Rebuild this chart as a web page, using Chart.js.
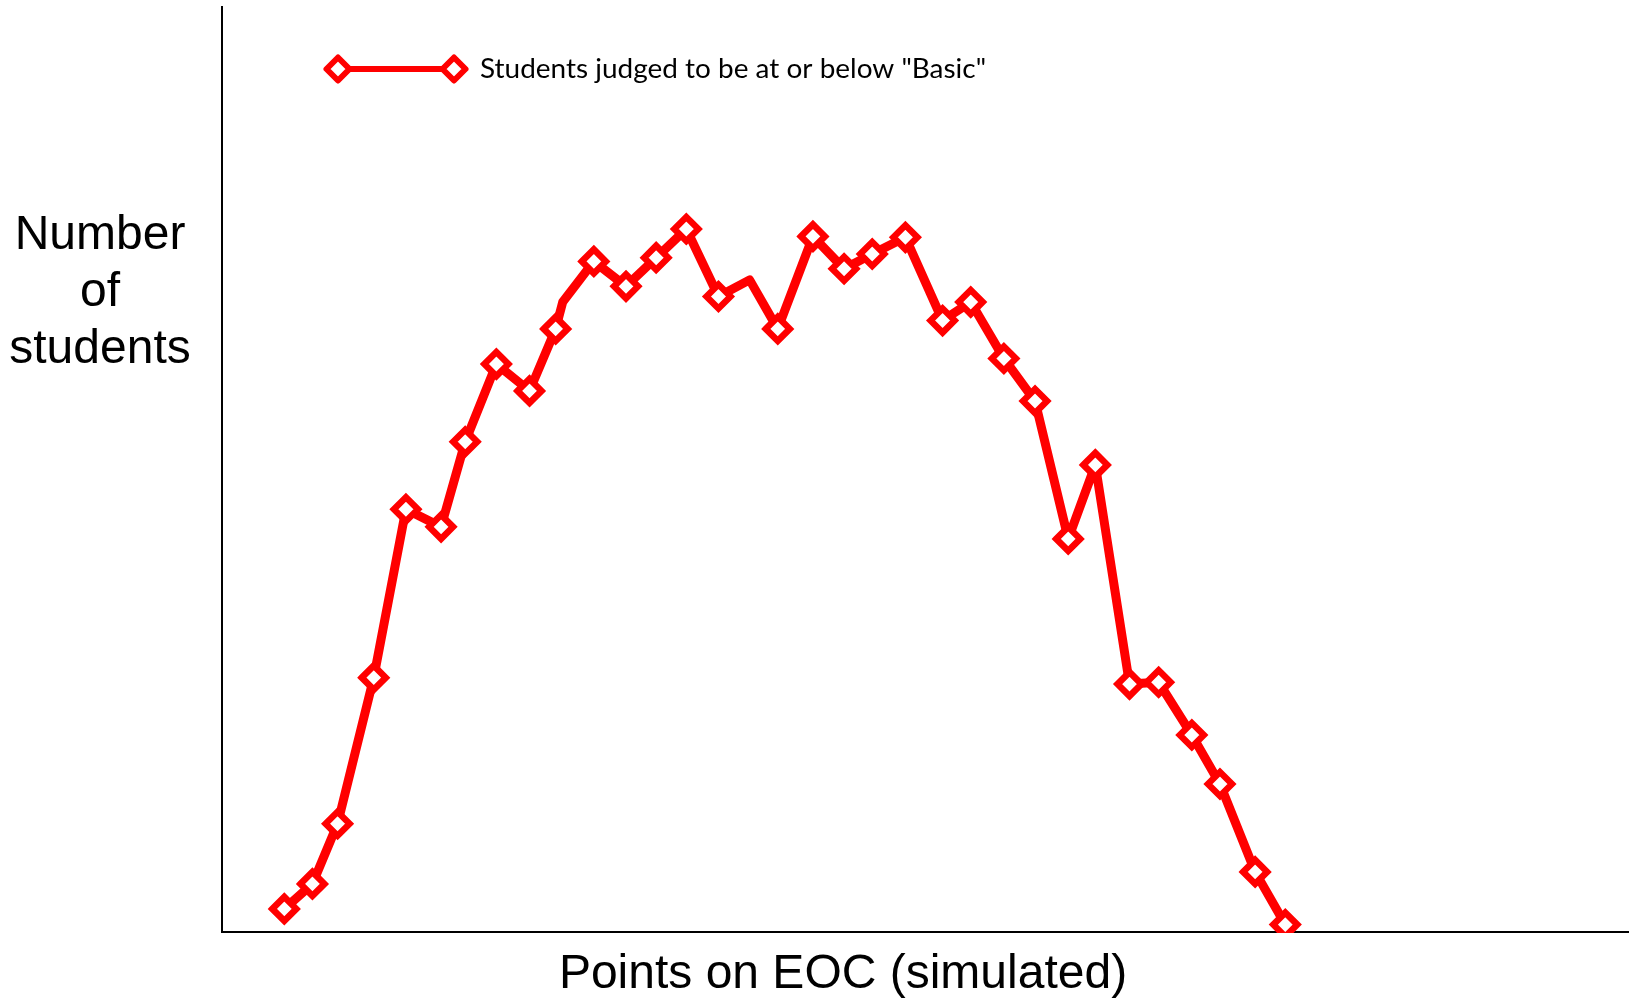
<!DOCTYPE html>
<html>
<head>
<meta charset="utf-8">
<script src="https://cdn.jsdelivr.net/npm/chart.js@4/dist/chart.umd.min.js"></script>
<style>
  html, body { margin: 0; padding: 0; background: #fff; overflow: hidden; }
  #wrap { width: 1629px; height: 998px; }
</style>
</head>
<body>
<div id="wrap"><canvas id="eocChart"></canvas></div>
<script>
// points on EOC (arbitrary units)
var eocPoints = [6.2, 9.0, 11.5, 15.1, 18.3, 21.8, 24.2, 27.3, 30.6, 33.2, 33.9, 37.0, 40.2, 43.2, 46.2, 49.4, 52.5,
  55.3, 58.8, 61.9, 64.7, 68.0, 71.7, 74.5, 77.8, 80.9, 84.2, 86.9, 90.3, 93.2, 96.5, 99.3, 102.8, 105.8]
// number of students (arbitrary units)
var studentCounts = [2.5, 5.2, 11.7, 27.5, 45.7, 43.8, 53.0, 61.4, 58.5, 65.2, 68.1, 72.5, 69.8, 72.9, 76.0, 68.7, 70.5,
  65.2, 75.2, 71.7, 73.3, 75.1, 66.1, 68.1, 62.0, 57.4, 42.5, 50.5, 26.8, 27.0, 21.3, 16.0, 6.5, 0.8]
// a couple of vertices in the source have no marker
var hasMarker = [1, 1, 1, 1, 1, 1, 1, 1, 1, 1, 0, 1, 1, 1, 1, 1, 0,
  1, 1, 1, 1, 1, 1, 1, 1, 1, 1, 1, 1, 1, 1, 1, 1, 1]

var seriesLabel = 'Students judged to be at or below "Basic"'
var yTitle = ['Number', 'of', 'students']
var xTitle = 'Points on EOC (simulated)'

var pts = eocPoints.map(function (x, i) { return { x: x, y: studentCounts[i] } })

var textPlugin = {
  id: 'textPlugin',
  afterDraw: function (chart) {
    var ctx = chart.ctx
    var area = chart.chartArea
    ctx.save()
    // y title
    ctx.fillStyle = '#000'
    ctx.font = '48px "Liberation Sans", Arial, sans-serif'
    ctx.textAlign = 'center'
    ctx.textBaseline = 'alphabetic'
    for (var i = 0; i < yTitle.length; i++) {
      ctx.fillText(yTitle[i], 100, 249 + i * 57)
    }
    // x title
    ctx.fillText(xTitle, 843, 988)

    // legend: line + two diamonds + label
    var ly = area.top + 62
    var lx1 = area.left + 116, lx2 = area.left + 232
    ctx.strokeStyle = '#ff0000'
    ctx.lineWidth = 6
    ctx.beginPath()
    ctx.moveTo(lx1, ly)
    ctx.lineTo(lx2, ly)
    ctx.stroke()
    var ps = { pointStyle: 'rectRot', radius: 11.5, borderWidth: 5.5 }
    ctx.fillStyle = '#fff'
    ctx.lineJoin = 'round'
    Chart.helpers.drawPoint(ctx, ps, lx1, ly)
    Chart.helpers.drawPoint(ctx, ps, lx2, ly)

    ctx.fillStyle = '#000'
    ctx.textAlign = 'left'
    ctx.font = '27px Lato, "Open Sans", sans-serif'
    var w = ctx.measureText(seriesLabel).width
    var sx = 506 / w
    ctx.translate(area.left + 258, area.top + 71)
    ctx.scale(sx, 1)
    ctx.fillText(seriesLabel, 0, 0)
    ctx.restore()
  }
}

new Chart(document.getElementById('eocChart'), {
  type: 'line',
  data: {
    datasets: [{
      label: seriesLabel,
      data: pts,
      borderColor: '#ff0000',
      borderWidth: 9,
      borderJoinStyle: 'round',
      tension: 0,
      fill: false,
      clip: 1,
      pointStyle: 'rectRot',
      pointRadius: hasMarker.map(function (m) { return m ? 12 : 0 }),
      pointBorderWidth: 6.5,
      pointBackgroundColor: '#ffffff',
      pointBorderColor: '#ff0000'
    }]
  },
  options: {
    responsive: true,
    maintainAspectRatio: false,
    animation: false,
    layout: { autoPadding: false, padding: { left: 222, top: 7, right: 0, bottom: 66 } },
    plugins: {
      legend: { display: false },
      tooltip: { enabled: false }
    },
    scales: {
      x: {
        type: 'linear',
        min: 0,
        max: 140,
        ticks: { display: false },
        grid: { display: false, drawTicks: false },
        border: { display: true, color: '#000', width: 2 }
      },
      y: {
        type: 'linear',
        min: 0,
        max: 100,
        ticks: { display: false },
        grid: { display: false, drawTicks: false },
        border: { display: true, color: '#000', width: 2 }
      }
    }
  },
  plugins: [textPlugin]
})
</script>
</body>
</html>
